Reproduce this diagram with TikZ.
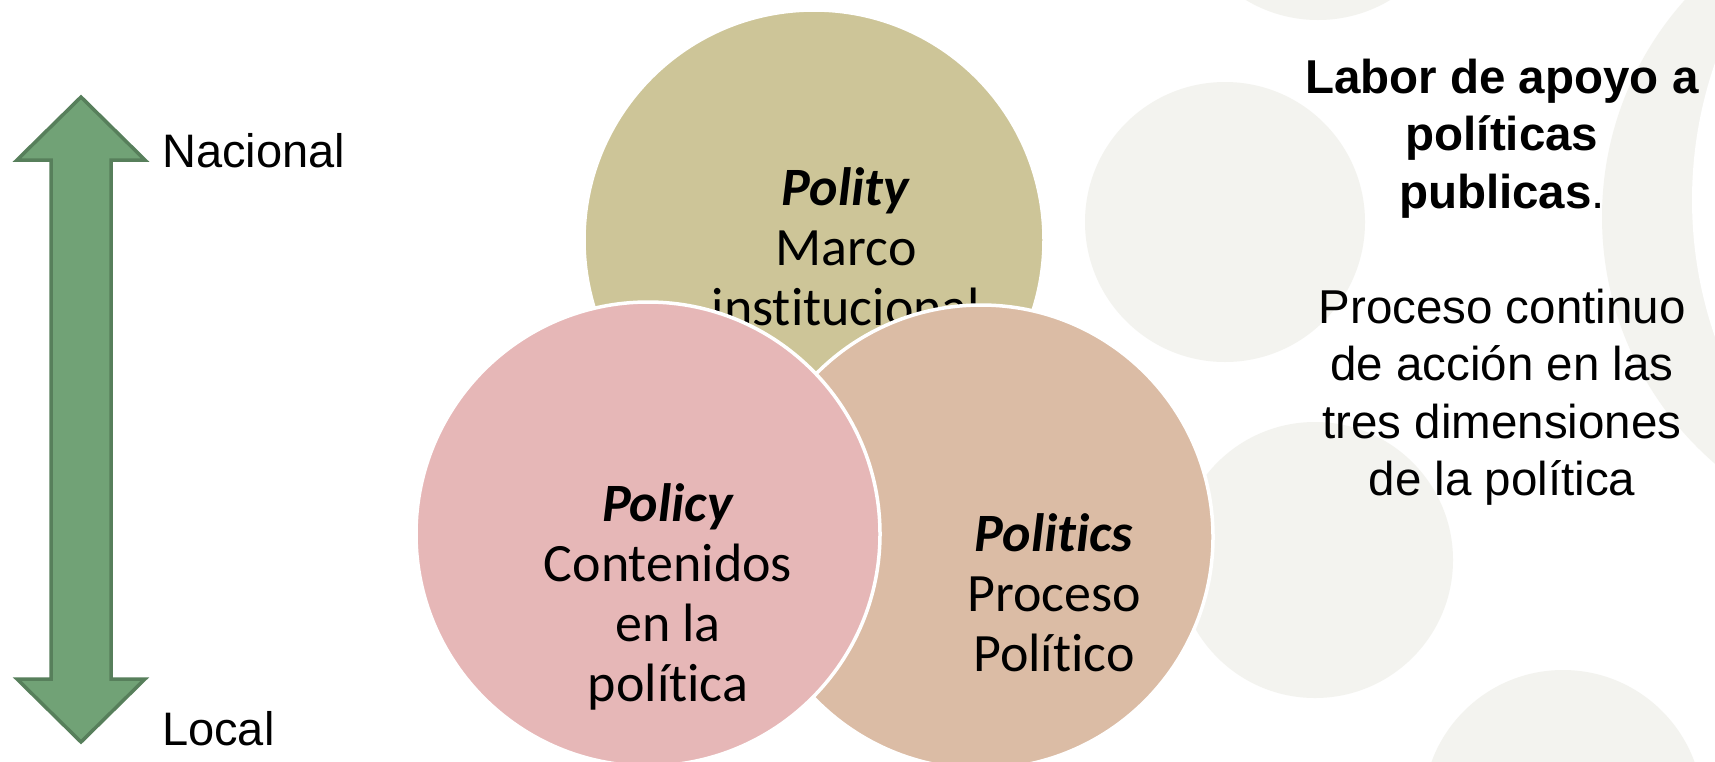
\documentclass[tikz,border=0pt]{standalone}
\usepackage{fontspec}
\setmainfont{Liberation Sans}
\newfontfamily\calibri[Ligatures=NoCommon]{Carlito}
\definecolor{bggray}{RGB}{243,243,239}
\definecolor{olivec}{RGB}{205,197,152}
\definecolor{pinkc}{RGB}{230,183,183}
\definecolor{tanc}{RGB}{219,188,165}
\definecolor{arrowfill}{RGB}{113,162,118}
\definecolor{arrowline}{RGB}{87,127,91}
\tikzset{
  venn/.style={circle, draw=white, line width=3.5pt, inner sep=0pt},
  venntext/.style={font=\calibri\fontsize{54}{60}\selectfont, align=center, inner sep=0pt, text=black},
  sidetext/.style={font=\fontsize{47}{57}\selectfont, inner sep=0pt, text=black},
  righttext/.style={font=\fontsize{47.5}{57.5}\selectfont, align=center, inner sep=0pt, text=black},
  arrowshape/.style={fill=arrowfill, draw=arrowline, line width=3.5pt, line join=miter}
}
\begin{document}
\begin{tikzpicture}[x=1pt,y=-1pt]
\useasboundingbox (0,0) rectangle (1715,761);
\fill[white] (0,0) rectangle (1715,761);
% background circles
\begin{scope}
\clip (0,0) rectangle (1715,761);
\fill[bggray] (1318,-120) circle[radius=140];
\fill[bggray] (1225,222) circle[radius=140];
\fill[bggray] (1315,560) circle[radius=138];
\fill[bggray] (1563,810) circle[radius=140];
\fill[bggray] (1928,217) circle[radius=326];
\fill[white] (2110,200) circle[radius=418];
\end{scope}
% double arrow
\draw[arrowshape] (81,97) -- (145,160) -- (111,160) -- (111,679) -- (145,679)
  -- (81,742) -- (17,679) -- (51,679) -- (51,160) -- (17,160) -- cycle;
\node[sidetext, anchor=base west] (nacional) at (162,167) {Nacional};
\node[sidetext, anchor=base west] (local) at (162,745) {Local};
% venn circles
\node[venn, fill=olivec, minimum size=460pt] (polity) at (814,240) {};
\node[venntext] (politytxt) at (846,247) {\textbf{\textit{Polity}}\\Marco\\institucional};
\node[venn, fill=tanc, minimum size=464pt] (politics) at (981,537) {};
\node[venntext] (politicstxt) at (1054,593) {\textbf{\textit{Politics}}\\Proceso\\Político};
\node[venn, fill=pinkc, minimum size=464pt] (policy) at (648,534) {};
\node[venntext] (policytxt) at (668,597) {\textbf{\textit{Policy}}\\Contenidos\\en la\\política};
% right text
\node[righttext] (labor) at (1502,282) {\textbf{Labor de apoyo a}\\\textbf{políticas}\\\textbf{publicas}.\\[57.5pt]Proceso continuo\\de acción en las\\tres dimensiones\\de la política};
\end{tikzpicture}
\end{document}
